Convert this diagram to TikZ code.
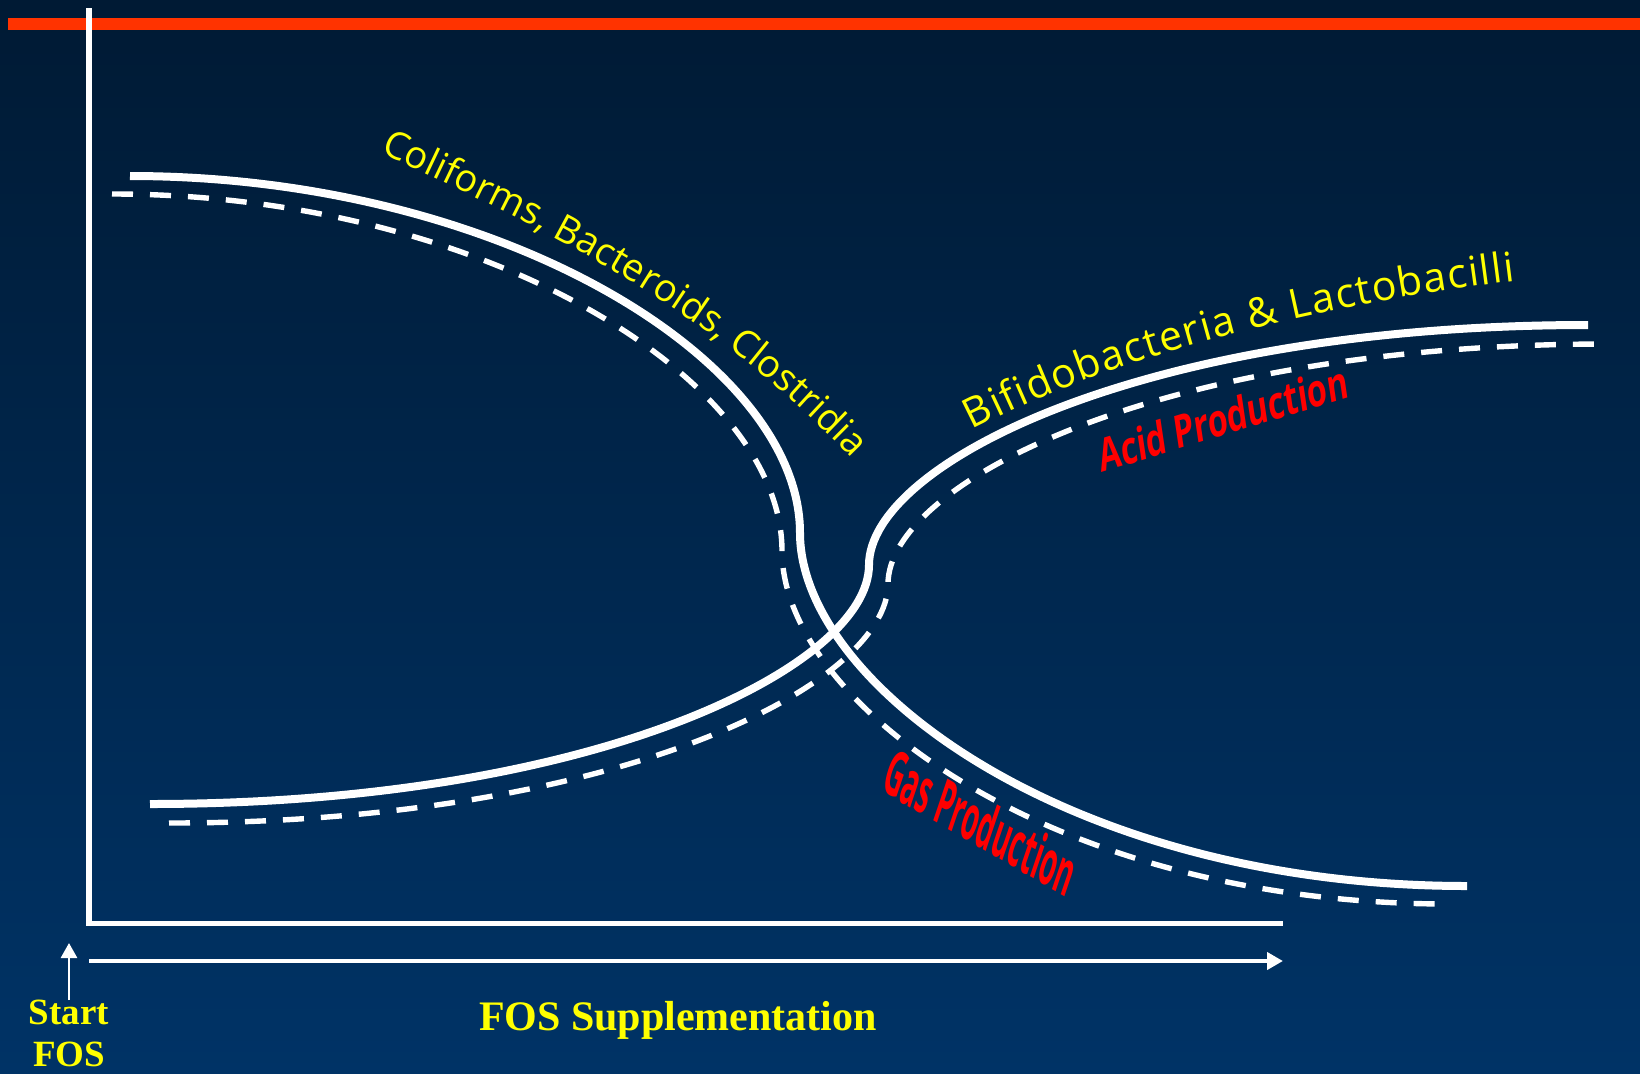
\documentclass[tikz,border=0pt]{standalone}
\usepackage{fontspec}
\usepackage{graphicx}
\setmainfont{Liberation Serif}
\newfontfamily\handfont{Open Sans}
\usetikzlibrary{decorations.text,arrows.meta}

\definecolor{navytop}{RGB}{0,26,52}
\definecolor{navybottom}{RGB}{0,51,102}
\definecolor{barred}{RGB}{255,51,0}
\definecolor{labelyellow}{RGB}{255,255,0}
\definecolor{labelred}{RGB}{255,0,0}

\begin{document}
\begin{tikzpicture}[x=0.5pt,y=-0.5pt,
  solidcurve/.style={white,line width=4pt},
  dashcurve/.style={white,line width=2.7pt,dash pattern=on 10.5pt off 8.5pt},
  axisline/.style={white,line width=2.8pt},
  timeline/.style={white,line width=2.4pt,-{Triangle[length=8pt,width=8.5pt]}},
  startarrow/.style={white,line width=1.35pt,-{Triangle[length=7.5pt,width=8pt]}},
  curvelabel/.style 2 args={decorate,decoration={text along path,text color=labelyellow,
      text align=fit to path,text={|\handfont\fontsize{#1}{#1}\selectfont|#2}}},
  footlabel/.style={text=labelyellow,font=\bfseries\fontsize{21}{25}\selectfont,inner sep=0pt},
  startlabel/.style={text=labelyellow,font=\bfseries\fontsize{18.5}{21}\selectfont,
      align=center,inner sep=0pt},
  effect/.style={inner sep=0pt,text=labelred}
]
% background and title rule
\fill[top color=navytop,bottom color=navybottom] (0,0) rectangle (1640,1073);
\useasboundingbox (0,0) rectangle (1640,1073);
\fill[barred] (8,18) rectangle (1640,30);

% axes
\coordinate (ytop) at (89,8);
\coordinate (xend) at (1283,923.5);
\draw[axisline] (ytop) |- (xend);

% time line
\coordinate (tl0) at (89,961);
\coordinate (tl1) at (1283,961);
\draw[timeline] (tl0) -- (tl1);

% population curves: falling group
\draw[solidcurve] (130,176) .. controls (500,176) and (800,360) .. (800,533)
  .. controls (800,683) and (1067,886) .. (1467,886);
\draw[dashcurve] (112,194) .. controls (482,194) and (782,378) .. (782,551)
  .. controls (782,701) and (1049,904) .. (1449,904);

% population curves: rising group
\draw[solidcurve] (150,804) .. controls (600,804) and (869,665) .. (869,565)
  .. controls (869,465) and (1138,325) .. (1588,325);
\draw[dashcurve] (169,823) .. controls (619,823) and (888,684) .. (888,584)
  .. controls (888,484) and (1157,344) .. (1607,344);

% curved group names
\path[curvelabel={19}{Coliforms, Bacteroids, Clostridia}]
  (380,152) .. controls (579,245) and (713,314) .. (852,458);
\path[curvelabel={20.5}{Bifidobacteria {\&} Lactobacilli}]
  (972,430) .. controls (1132,348) and (1336,303) .. (1515,281);

% metabolic effects
\node[effect,anchor=base west,rotate=17,xslant=0.15] (acid) at (1101,473)
  {\resizebox{130pt}{17pt}{\handfont\bfseries Acid Production}};
\node[effect,rotate=-30,xslant=-0.2] (gas) at (981,822)
  {\resizebox{108pt}{23pt}{\handfont\bfseries Gas Production}};

% axis captions
\node[footlabel,anchor=base] (fos) at (678,1030) {FOS Supplementation};
\node[startlabel,anchor=north] (start) at (69,1000) {Start\\FOS};
\coordinate (starttip) at (69,943);
\draw[startarrow] (start.north) -- (starttip);
\end{tikzpicture}
\end{document}
